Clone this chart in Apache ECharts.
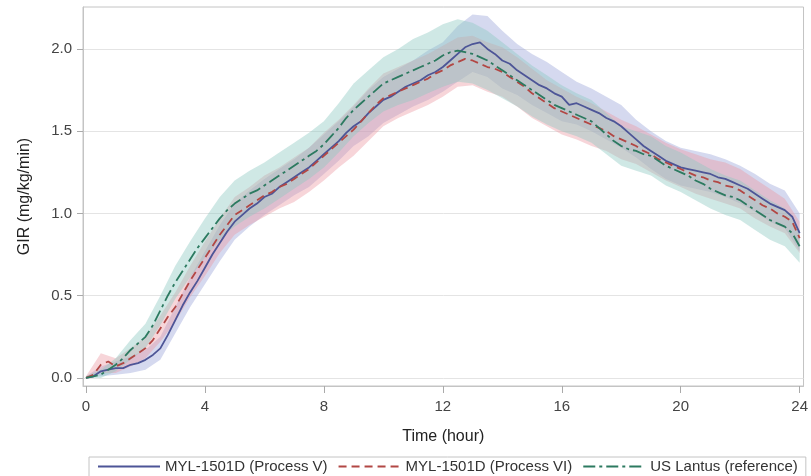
<!DOCTYPE html>
<html>
<head>
<meta charset="utf-8">
<script src="https://cdn.jsdelivr.net/npm/echarts@6/dist/echarts.min.js"></script>
<style>html,body{margin:0;padding:0;background:#fff}#c{width:811px;height:476px}</style>
</head>
<body>
<div id="c"></div>
<script>
// Mean curves sampled every 0.25 h (0 .. 24)
const meanStep = 0.25;
const meanV = [0.00,0.01,0.04,0.05,0.06,0.06,0.08,0.09,0.11,0.14,0.18,0.26,0.35,0.44,0.52,0.59,0.67,0.75,0.82,0.89,0.95,0.99,1.03,1.06,1.10,1.12,1.16,1.19,1.22,1.25,1.28,1.32,1.36,1.40,1.44,1.49,1.53,1.56,1.61,1.65,1.69,1.71,1.74,1.77,1.79,1.81,1.84,1.86,1.89,1.93,1.97,2.01,2.03,2.04,2.00,1.97,1.93,1.91,1.87,1.84,1.81,1.78,1.76,1.73,1.71,1.66,1.67,1.65,1.63,1.61,1.58,1.56,1.53,1.49,1.45,1.41,1.38,1.35,1.32,1.30,1.28,1.27,1.26,1.25,1.24,1.22,1.21,1.19,1.17,1.15,1.12,1.09,1.06,1.04,1.02,0.98,0.88];
const meanVI = [0.00,0.02,0.08,0.10,0.07,0.09,0.12,0.15,0.18,0.23,0.30,0.37,0.43,0.51,0.59,0.66,0.73,0.80,0.87,0.93,0.99,1.02,1.05,1.08,1.11,1.13,1.16,1.18,1.21,1.24,1.27,1.31,1.35,1.39,1.43,1.47,1.51,1.56,1.61,1.66,1.70,1.72,1.74,1.76,1.78,1.80,1.82,1.85,1.87,1.90,1.92,1.94,1.93,1.91,1.89,1.88,1.86,1.83,1.80,1.77,1.73,1.70,1.67,1.64,1.62,1.60,1.58,1.56,1.54,1.52,1.50,1.47,1.45,1.43,1.41,1.38,1.36,1.33,1.31,1.29,1.27,1.25,1.23,1.22,1.20,1.19,1.17,1.16,1.14,1.11,1.08,1.05,1.03,1.00,0.98,0.95,0.85];
const meanRef = [0.00,0.01,0.02,0.05,0.08,0.12,0.17,0.21,0.25,0.32,0.41,0.50,0.58,0.65,0.72,0.79,0.85,0.91,0.97,1.02,1.06,1.09,1.12,1.14,1.17,1.20,1.23,1.26,1.29,1.32,1.35,1.38,1.42,1.47,1.52,1.58,1.63,1.67,1.71,1.75,1.79,1.81,1.83,1.85,1.87,1.89,1.91,1.93,1.96,1.98,1.99,1.98,1.97,1.95,1.93,1.90,1.87,1.84,1.81,1.78,1.75,1.72,1.69,1.66,1.64,1.62,1.60,1.58,1.56,1.52,1.48,1.44,1.41,1.39,1.38,1.36,1.35,1.32,1.29,1.27,1.25,1.23,1.20,1.18,1.15,1.13,1.11,1.10,1.08,1.05,1.02,0.99,0.96,0.94,0.92,0.88,0.80];

// Confidence bands sampled every 0.5 h (0 .. 24)
const bandStep = 0.5;
const loV  = [0.00,0.01,0.02,0.03,0.05,0.11,0.27,0.43,0.57,0.71,0.84,0.92,0.99,1.05,1.11,1.16,1.24,1.32,1.41,1.47,1.55,1.60,1.65,1.69,1.74,1.80,1.86,1.83,1.76,1.72,1.66,1.61,1.56,1.54,1.50,1.45,1.40,1.34,1.27,1.21,1.17,1.15,1.13,1.10,1.06,1.01,0.95,0.91,0.77];
const hiV  = [0.01,0.07,0.10,0.13,0.17,0.25,0.43,0.61,0.77,0.93,1.06,1.14,1.21,1.27,1.33,1.40,1.48,1.56,1.65,1.75,1.83,1.88,1.93,1.99,2.04,2.14,2.21,2.20,2.11,2.03,1.97,1.92,1.86,1.80,1.76,1.71,1.66,1.57,1.50,1.44,1.40,1.38,1.36,1.33,1.29,1.24,1.18,1.14,1.00];
const loVI = [0.00,0.03,0.03,0.07,0.12,0.22,0.34,0.49,0.62,0.76,0.87,0.93,0.98,1.03,1.07,1.13,1.20,1.28,1.35,1.44,1.53,1.58,1.62,1.66,1.71,1.77,1.78,1.74,1.71,1.65,1.58,1.53,1.48,1.45,1.41,1.38,1.33,1.30,1.25,1.20,1.16,1.12,1.09,1.06,1.03,0.97,0.92,0.88,0.76];
const hiVI = [0.01,0.15,0.12,0.18,0.25,0.38,0.52,0.68,0.83,0.97,1.10,1.16,1.23,1.28,1.34,1.40,1.49,1.57,1.66,1.76,1.85,1.89,1.93,1.97,2.02,2.07,2.08,2.04,2.01,1.95,1.88,1.81,1.76,1.71,1.67,1.62,1.57,1.53,1.48,1.43,1.39,1.36,1.33,1.31,1.27,1.21,1.15,1.09,0.95];
const loRef = [0.00,0.00,0.04,0.11,0.18,0.32,0.48,0.61,0.73,0.84,0.92,0.98,1.03,1.09,1.15,1.21,1.28,1.37,1.47,1.55,1.62,1.66,1.69,1.73,1.77,1.80,1.79,1.75,1.70,1.65,1.59,1.54,1.50,1.47,1.43,1.36,1.29,1.26,1.23,1.17,1.13,1.08,1.03,0.99,0.96,0.90,0.84,0.80,0.70];
const hiRef = [0.01,0.05,0.12,0.23,0.33,0.50,0.68,0.83,0.97,1.10,1.20,1.26,1.31,1.37,1.43,1.49,1.56,1.67,1.79,1.87,1.95,2.00,2.06,2.10,2.15,2.18,2.16,2.11,2.04,1.97,1.90,1.84,1.78,1.73,1.69,1.61,1.53,1.50,1.47,1.41,1.37,1.32,1.27,1.23,1.20,1.14,1.08,1.03,0.90];

const names = ['MYL-1501D (Process V)','MYL-1501D (Process VI)','US Lantus (reference)'];
const lineColors = ['#4d5597','#b24744','#2c7a60'];
const bandColors = ['rgba(150,160,214,0.40)','rgba(236,150,160,0.40)','rgba(140,200,192,0.42)'];
const dashTypes = ['solid',[8,5],[12,4,3,4]];
const xTicks = [0,4,8,12,16,20,24];
const yTicks = [0,0.5,1.0,1.5,2.0];

const means = [meanV, meanVI, meanRef];
const los = [loV, loVI, loRef];
const his = [hiV, hiVI, hiRef];

const series = [];
los.forEach((lo, k) => {
  const hi = his[k];
  const rows = lo.map((v, i) => [i * bandStep, v, hi[i]]);
  series.push({
    name: 'band-' + k, type: 'custom', silent: true, z: 1,
    encode: {x: 0, y: [1, 2]},
    data: rows,
    renderItem: function (params, api) {
      if (params.dataIndex !== 0) return null;
      const pts = [];
      for (let i = 0; i < rows.length; i++) pts.push(api.coord([rows[i][0], rows[i][2]]));
      for (let i = rows.length - 1; i >= 0; i--) pts.push(api.coord([rows[i][0], rows[i][1]]));
      return {type: 'polygon', shape: {points: pts}, style: {fill: bandColors[k], stroke: null}};
    }
  });
});
means.forEach((m, k) => {
  series.push({
    name: names[k], type: 'line', symbol: 'none', z: 3,
    lineStyle: {color: lineColors[k], width: 1.8, type: dashTypes[k]},
    itemStyle: {color: lineColors[k]},
    data: m.map((v, i) => [i * meanStep, v])
  });
});

const chart = echarts.init(document.getElementById('c'), null, {renderer: 'canvas'});
const font = 'Liberation Sans, Arial, sans-serif';
chart.setOption({
  animation: false,
  textStyle: {fontFamily: font},
  grid: {left: 83, top: 7, right: 3, bottom: 90, show: true, borderColor: '#c4c4c4', borderWidth: 1, containLabel: false},
  xAxis: {
    type: 'value', min: -0.1, max: 24.13,
    name: 'Time (hour)', nameLocation: 'middle', nameGap: 43,
    nameTextStyle: {fontSize: 16, color: '#222', fontFamily: font},
    axisLine: {show: true, onZero: false, lineStyle: {color: '#c4c4c4'}},
    axisTick: {show: true, inside: false, length: 7, lineStyle: {color: '#aaa'}, customValues: xTicks},
    axisLabel: {fontSize: 15, color: '#444', margin: 13, customValues: xTicks},
    splitLine: {show: false}
  },
  yAxis: {
    type: 'value', min: -0.049, max: 2.255,
    name: 'GIR (mg/kg/min)', nameLocation: 'middle', nameGap: 50, nameRotate: 90,
    nameTextStyle: {fontSize: 16, color: '#222', fontFamily: font},
    axisLine: {show: true, onZero: false, lineStyle: {color: '#c4c4c4'}},
    axisTick: {show: true, inside: false, length: 6, lineStyle: {color: '#aaa'}, customValues: yTicks},
    axisLabel: {fontSize: 15, color: '#444', margin: 11, customValues: yTicks, formatter: v => v.toFixed(1)},
    splitLine: {show: true, lineStyle: {color: '#e4e4e4', width: 1}}
  },
  legend: {
    data: names.map(n => ({name: n, itemStyle: {opacity: 0}})), left: 89, top: 457, orient: 'horizontal',
    itemWidth: 62, itemHeight: 10, itemGap: 10,
    borderColor: '#c4c4c4', borderWidth: 1, padding: [2, 8, 8, 8],
    textStyle: {fontSize: 15, color: '#333', fontFamily: font}
  },
  series: series
});
</script>
</body>
</html>
